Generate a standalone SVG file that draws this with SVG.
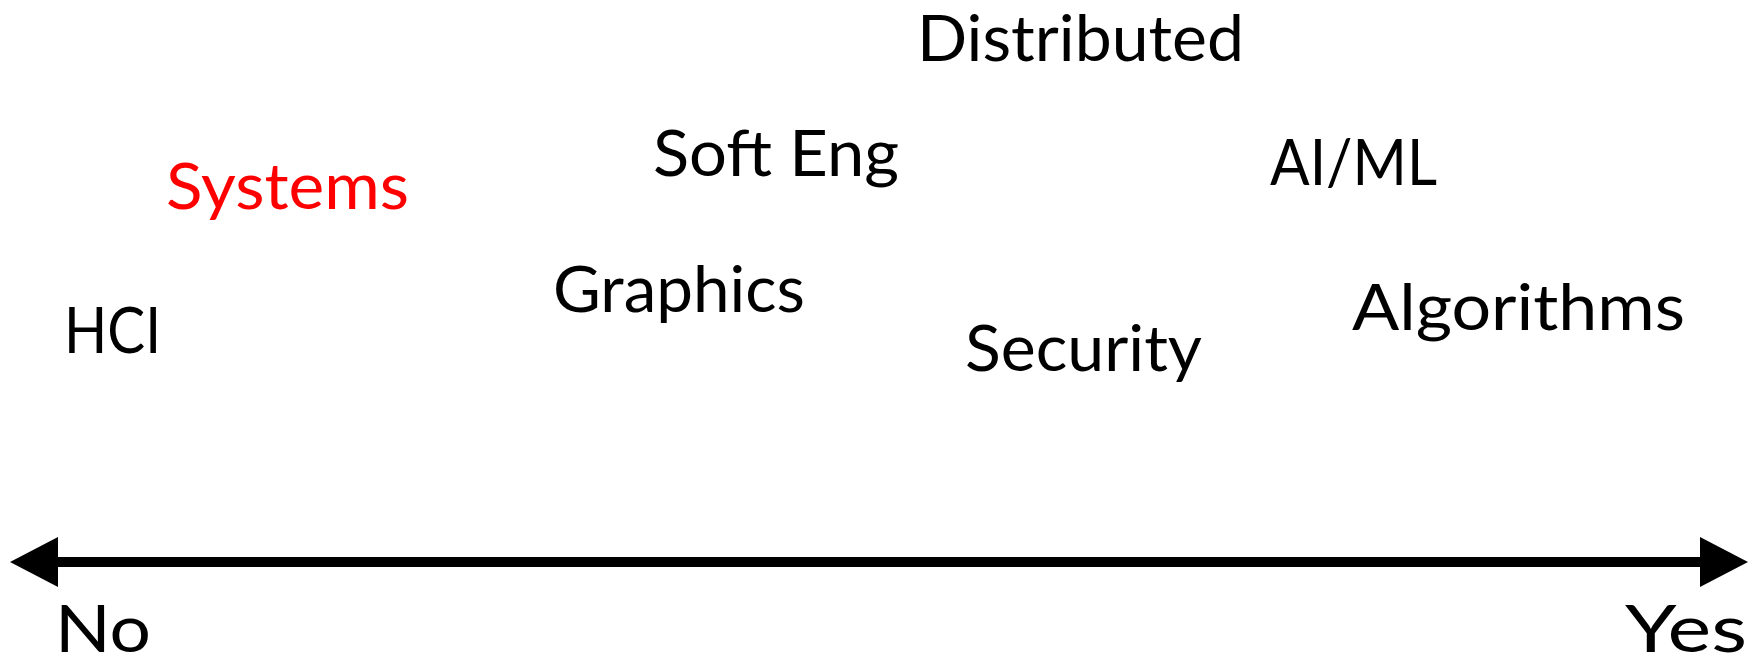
<svg xmlns="http://www.w3.org/2000/svg" width="1760" height="667" viewBox="0 0 1760 667">
  <style>
    .lbl { font-family: Lato, "Open Sans", "Liberation Sans", sans-serif; font-size: 63px; fill: #000; }
    .end { font-family: Lato, "Open Sans", "Liberation Sans", sans-serif; font-size: 66px; fill: #000; }
    .hot { fill: #ff0000; }
    .axis { stroke: #000; stroke-width: 10; fill: none; }
  </style>
  <defs>
    <marker id="head" viewBox="0 0 48 50" refX="0" refY="25" markerWidth="48" markerHeight="50" markerUnits="userSpaceOnUse" orient="auto-start-reverse">
      <path d="M0,0 L48,25 L0,50 Z" fill="#000"/>
    </marker>
  </defs>

  <!-- horizontal No/Yes axis with a head at each end -->
  <g id="connectors">
    <line class="axis" x1="58" y1="562" x2="1700" y2="562" marker-start="url(#head)" marker-end="url(#head)"/>
  </g>

  <g id="node-distributed"><text class="lbl" x="917" y="61" font-size="62" textLength="327" lengthAdjust="spacingAndGlyphs">Distributed</text></g>
  <g id="node-softeng"><text class="lbl" x="653" y="176" textLength="246" lengthAdjust="spacingAndGlyphs">Soft Eng</text></g>
  <g id="node-systems"><text class="lbl hot" x="166" y="209" textLength="243" lengthAdjust="spacingAndGlyphs">Systems</text></g>
  <g id="node-aiml"><text class="lbl" x="1270" y="185" textLength="167" lengthAdjust="spacingAndGlyphs">AI/ML</text></g>
  <g id="node-graphics"><text class="lbl" x="553" y="312" textLength="252" lengthAdjust="spacingAndGlyphs">Graphics</text></g>
  <g id="node-hci"><text class="lbl" x="64" y="353" textLength="97" lengthAdjust="spacingAndGlyphs">HCI</text></g>
  <g id="node-security"><text class="lbl" x="965" y="371" textLength="237" lengthAdjust="spacingAndGlyphs">Security</text></g>
  <g id="node-algorithms"><text class="lbl" x="1352" y="330" textLength="333" lengthAdjust="spacingAndGlyphs">Algorithms</text></g>
  <g id="node-no"><text class="end" x="55" y="652" textLength="96" lengthAdjust="spacingAndGlyphs">No</text></g>
  <g id="node-yes"><text class="end" x="1625" y="652" textLength="122" lengthAdjust="spacingAndGlyphs">Yes</text></g>
</svg>
